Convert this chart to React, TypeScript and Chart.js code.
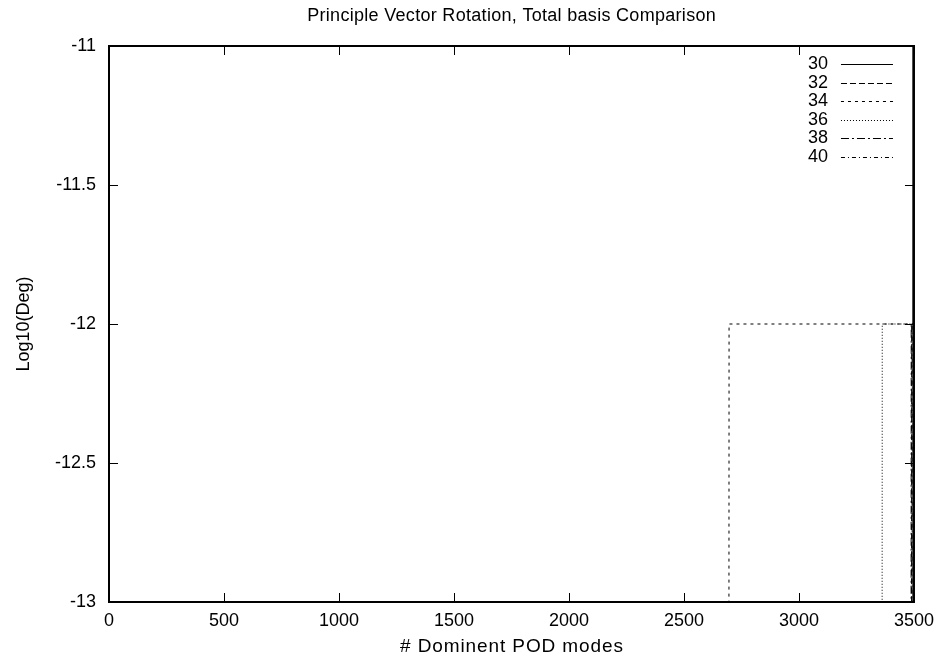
import React, { useEffect, useRef } from "react";
import { Chart, registerables } from "chart.js";

Chart.register(...registerables);

// ---- data (mode index breakpoints, log10 of angle in degrees) ----
const seriesLabels = ["30", "32", "34", "36", "38", "40"];
const x30 = [1, 3494, 3495];
const y30 = [-14, -14, -10];
const x32 = [1, 3489, 3490, 3499, 3500];
const y32 = [-14, -14, -12, -12, -10];
const x34 = [1, 2695, 2696, 3499, 3500];
const y34 = [-14, -14, -12, -12, -10];
const x36 = [1, 3361, 3362, 3499, 3500];
const y36 = [-14, -14, -12, -12, -10];
const x38 = [1, 3487, 3488, 3499, 3500];
const y38 = [-14, -14, -12, -12, -10];
const x40 = [1, 3491, 3492, 3499, 3500];
const y40 = [-14, -14, -12, -12, -10];
const xTicks = [0, 500, 1000, 1500, 2000, 2500, 3000, 3500];
const yTicks = [-13, -12.5, -12, -11.5, -11];

const titleText = "Principle Vector Rotation, Total basis Comparison";
const xTitleText = "# Dominent POD modes";
const yTitleText = "Log10(Deg)";

const dashes: number[][] = [[], [6, 3], [3, 4], [1, 2], [8, 3, 2, 3], [4, 3, 1, 3]];
const xs = [x30, x32, x34, x36, x38, x40];
const ys = [y30, y32, y34, y36, y38, y40];

const FONT = "'Liberation Sans', Arial, Helvetica, sans-serif";

function drawText(
  ctx: CanvasRenderingContext2D,
  text: string,
  x: number,
  y: number,
  size: number,
  spacing: number,
  align: CanvasTextAlign,
  rotate = 0
) {
  ctx.save();
  ctx.font = `${size}px ${FONT}`;
  (ctx as any).letterSpacing = `${spacing}px`;
  ctx.fillStyle = "#000";
  ctx.textBaseline = "middle";
  ctx.translate(x, y);
  if (rotate) ctx.rotate(rotate);
  let w = ctx.measureText(text).width;
  w -= spacing;
  let dx = 0;
  if (align === "center") dx = -w / 2;
  else if (align === "right") dx = -w;
  ctx.textAlign = "left";
  ctx.fillText(text, dx, 0);
  ctx.restore();
}

const framePlugin = {
  id: "gnuFrame",
  afterDatasetsDraw(chart: any) {
    const { ctx, chartArea: a, scales } = chart;
    const xs_ = scales.x;
    const ys_ = scales.y;
    ctx.save();
    ctx.strokeStyle = "#000";
    ctx.lineWidth = 1;
    ctx.setLineDash([]);
    const tl = 9;
    ctx.beginPath();
    for (const v of xTicks) {
      const p = Math.round(xs_.getPixelForValue(v)) + 0.5;
      ctx.moveTo(p, a.bottom);
      ctx.lineTo(p, a.bottom - tl);
      ctx.moveTo(p, a.top);
      ctx.lineTo(p, a.top + tl);
    }
    for (const v of yTicks) {
      const p = Math.round(ys_.getPixelForValue(v)) + 0.5;
      ctx.moveTo(a.left, p);
      ctx.lineTo(a.left + tl, p);
      ctx.moveTo(a.right, p);
      ctx.lineTo(a.right - tl, p);
    }
    ctx.stroke();
    ctx.lineWidth = 2;
    ctx.strokeRect(a.left, a.top, a.right - a.left, a.bottom - a.top);

    // legend (inside, top right)
    const labelRight = a.right - 86;
    const sx0 = a.right - 73;
    const sx1 = a.right - 21;
    seriesLabels.forEach((lab, i) => {
      const yy = a.top + 18 + i * 18.6;
      drawText(ctx, lab, labelRight, yy, 18, 0, "right");
      ctx.save();
      ctx.strokeStyle = "#000";
      ctx.lineWidth = 1;
      ctx.setLineDash(dashes[i]);
      ctx.beginPath();
      ctx.moveTo(sx0, Math.round(yy) + 0.5);
      ctx.lineTo(sx1, Math.round(yy) + 0.5);
      ctx.stroke();
      ctx.restore();
    });

    // titles
    const cx = (a.left + a.right) / 2;
    drawText(ctx, titleText, cx, 16, 18, 0.3, "center");
    drawText(ctx, xTitleText, cx, 647, 19, 0.9, "center");
    drawText(ctx, yTitleText, 24, (a.top + a.bottom) / 2, 18, 0, "center", -Math.PI / 2);
    ctx.restore();
  },
};

export default function App() {
  const ref = useRef<HTMLCanvasElement | null>(null);
  useEffect(() => {
    if (!ref.current) return;
    const chart = new Chart(ref.current, {
      type: "line",
      data: {
        datasets: seriesLabels.map((lab, i) => ({
          label: lab,
          data: xs[i].map((x, j) => ({ x, y: ys[i][j] })),
          borderColor: "#000",
          borderWidth: 1,
          borderDash: dashes[i],
          pointRadius: 0,
          fill: false,
          tension: 0,
        })),
      },
      options: {
        animation: false,
        responsive: false,
        events: [],
        layout: { padding: { left: 0, right: 28, top: 46, bottom: 0 } },
        plugins: {
          legend: { display: false },
          title: { display: false },
          tooltip: { enabled: false },
        },
        scales: {
          x: {
            type: "linear",
            min: 0,
            max: 3500,
            grid: { display: false, drawTicks: false },
            border: { display: false },
            ticks: {
              stepSize: 500,
              padding: 8,
              color: "#000",
              font: { family: FONT, size: 18 },
              maxRotation: 0,
              callback: (v: any) => String(v),
            },
            afterFit: (s: any) => {
              s.height = 60;
            },
          },
          y: {
            type: "linear",
            min: -13,
            max: -11,
            grid: { display: false, drawTicks: false },
            border: { display: false },
            ticks: {
              stepSize: 0.5,
              padding: 13,
              color: "#000",
              font: { family: FONT, size: 18 },
              callback: (v: any) => String(v),
            },
            afterFit: (s: any) => {
              s.width = 109;
            },
          },
        },
      },
      plugins: [framePlugin],
    });
    return () => chart.destroy();
  }, []);
  return (
    <div style={{ position: "fixed", left: 0, top: 0, width: 942, height: 662, background: "#fff" }}>
      <canvas ref={ref} width={942} height={662} style={{ width: 942, height: 662, display: "block" }} />
    </div>
  );
}
